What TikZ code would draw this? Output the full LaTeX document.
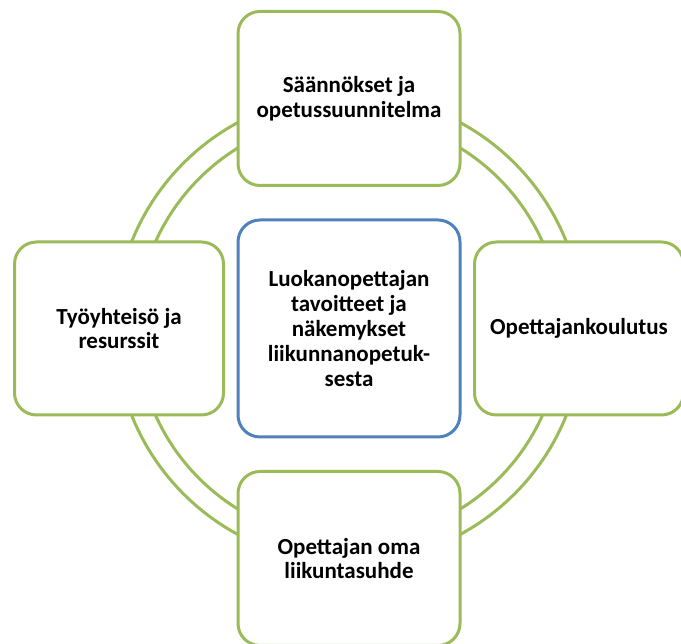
\documentclass[tikz,border=0pt]{standalone}
\usepackage{fontspec}
\setmainfont{Carlito}
\usetikzlibrary{positioning}
\definecolor{ringgreen}{HTML}{9BBB59}
\definecolor{coreblue}{HTML}{4F81BD}

\begin{document}
\begin{tikzpicture}[x=1pt,y=1pt,node distance=230pt,
    box/.style={draw=ringgreen, line width=3pt, rounded corners=22pt, fill=white,
      align=center, inner sep=0pt, font=\fontsize{23}{24.8}\selectfont\bfseries},
    sidebox/.style={box, minimum width=209pt, minimum height=173pt},
    endbox/.style={box, minimum width=222pt, minimum height=174pt},
    ring/.style={draw=ringgreen, line width=3pt}]
    \useasboundingbox (0,0) rectangle (681,644);

    \node[box, draw=coreblue, minimum width=222pt, minimum height=217pt] (mid) at (349,315.5)
        {Luokanopettajan\\tavoitteet ja\\näkemykset\\liikunnanopetuk-\\sesta};

    % double ring behind the outer boxes
    \draw[ring] (mid.center) circle[radius=234pt];
    \draw[ring] (mid.center) circle[radius=212pt];

    \node[endbox]  (top)    [above of=mid] {Säännökset ja\\opetussuunnitelma};
    \node[endbox]  (bottom) [below of=mid] {Opettajan oma\\liikuntasuhde};
    \node[sidebox] (left)   [left of=mid]  {Työyhteisö ja\\resurssit};
    \node[sidebox] (right)  [right of=mid] {Opettajankoulutus};
\end{tikzpicture}
\end{document}
